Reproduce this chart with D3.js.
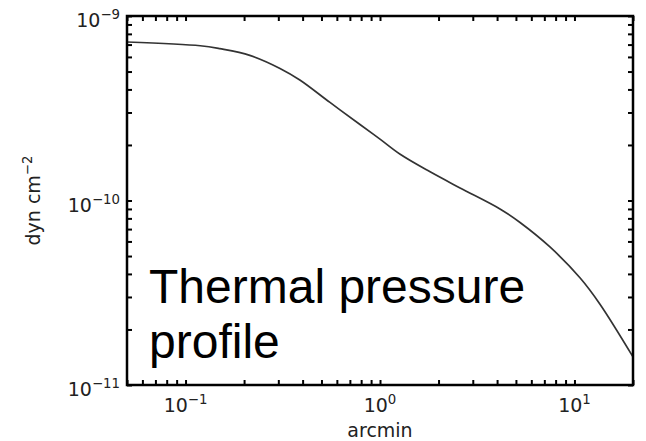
<!DOCTYPE html>
<html><head><meta charset="utf-8">
<script src="https://cdn.jsdelivr.net/npm/d3@7"></script>
<style>html,body{margin:0;padding:0;background:#fff;} svg{display:block;}</style>
</head><body>
<svg id="c" width="646" height="441"></svg>
<script>
// Data
const radius = [0.05, 0.119, 0.15, 0.214, 0.306, 0.387, 0.553, 0.789, 1.0, 1.27, 1.81, 2.58, 4.14, 5.25, 7.48, 10.7, 13.5, 20];
const pressure = [7.23e-10, 6.9e-10, 6.65e-10, 6.12e-10, 5.2e-10, 4.5e-10, 3.4e-10, 2.58e-10, 2.15e-10, 1.78e-10, 1.43e-10, 1.17e-10, 9.0e-11, 7.6e-11, 5.6e-11, 3.8e-11, 2.75e-11, 1.42e-11];
const xMajor = [0.1, 1, 10];
const xMajorExp = ["−1", "0", "1"];
const yMajor = [1e-11, 1e-10, 1e-9];
const yMajorExp = ["−11", "−10", "−9"];
const xDomain = [0.05, 20];
const yDomain = [1e-11, 1e-9];
const xLabel = "arcmin";
const yLabelBase = "dyn cm";
const yLabelExp = "−2";
const annotation = ["Thermal pressure", "profile"];

const svg = d3.select("#c");
const L = 127, R = 633, T = 16, B = 385;
const x = d3.scaleLog().domain(xDomain).range([L, R]);
const y = d3.scaleLog().domain(yDomain).range([B, T]);

function minorTicks(dom) {
  const out = [];
  const lo = Math.floor(Math.log10(dom[0])), hi = Math.ceil(Math.log10(dom[1]));
  for (let e = lo; e <= hi; e++) for (let m = 1; m <= 9; m++) {
    const v = m * Math.pow(10, e);
    if (v >= dom[0] * 0.9999 && v <= dom[1] * 1.0001) out.push(v);
  }
  return out;
}
const xTicks = minorTicks(xDomain), yTicks = minorTicks(yDomain);
const tk = 5;

function styleAxis(g) {
  g.select(".domain").remove();
  g.selectAll(".tick line").attr("stroke", "#000").attr("stroke-width", 2);
  g.selectAll(".tick text").remove();
}
svg.append("g").attr("transform", `translate(0,${B})`).call(d3.axisBottom(x).tickValues(xTicks).tickSize(-tk)).call(styleAxis);
svg.append("g").attr("transform", `translate(0,${T})`).call(d3.axisTop(x).tickValues(xTicks).tickSize(-tk)).call(styleAxis);
svg.append("g").attr("transform", `translate(${L},0)`).call(d3.axisLeft(y).tickValues(yTicks).tickSize(-tk)).call(styleAxis);
svg.append("g").attr("transform", `translate(${R},0)`).call(d3.axisRight(y).tickValues(yTicks).tickSize(-tk)).call(styleAxis);

// curve
const line = d3.line().x(d => x(d[0])).y(d => y(d[1])).curve(d3.curveCatmullRom.alpha(0.5));
svg.append("path").datum(radius.map((r, i) => [r, pressure[i]]))
  .attr("d", line).attr("fill", "none").attr("stroke", "#333").attr("stroke-width", 1.7);

// frame
svg.append("rect").attr("x", L).attr("y", T).attr("width", R - L).attr("height", B - T)
  .attr("fill", "none").attr("stroke", "#000").attr("stroke-width", 2.5);

const fam = "DejaVu Sans, sans-serif";
const fs = 19;
// x tick labels
xMajor.forEach((v, i) => {
  const t = svg.append("text").attr("x", x(v)).attr("y", B + 27).attr("text-anchor", "middle")
    .attr("font-family", fam).attr("font-size", fs).attr("fill", "#222");
  t.append("tspan").text("10");
  t.append("tspan").attr("dy", -8).attr("font-size", fs * 0.7).text(xMajorExp[i]);
});
// y tick labels
yMajor.forEach((v, i) => {
  const t = svg.append("text").attr("x", L - 7).attr("y", y(v) + 11).attr("text-anchor", "end")
    .attr("font-family", fam).attr("font-size", fs).attr("fill", "#222");
  t.append("tspan").text("10");
  t.append("tspan").attr("dy", -8).attr("font-size", fs * 0.7).text(yMajorExp[i]);
});
// axis labels
svg.append("text").attr("x", (L + R) / 2).attr("y", 437).attr("text-anchor", "middle")
  .attr("font-family", fam).attr("font-size", fs).attr("fill", "#222").text(xLabel);
const yl = svg.append("text").attr("transform", `translate(40,${(T + B) / 2}) rotate(-90)`)
  .attr("text-anchor", "middle").attr("font-family", fam).attr("font-size", fs).attr("fill", "#222");
yl.append("tspan").text(yLabelBase);
yl.append("tspan").attr("dy", -8).attr("font-size", fs * 0.7).text(yLabelExp);

// annotation
annotation.forEach((s, i) => {
  svg.append("text").attr("x", 149).attr("y", 303 + i * 55)
    .attr("font-family", "Liberation Sans, Arial, sans-serif").attr("font-size", 48).attr("fill", "#000").text(s);
});
</script>
</body></html>
